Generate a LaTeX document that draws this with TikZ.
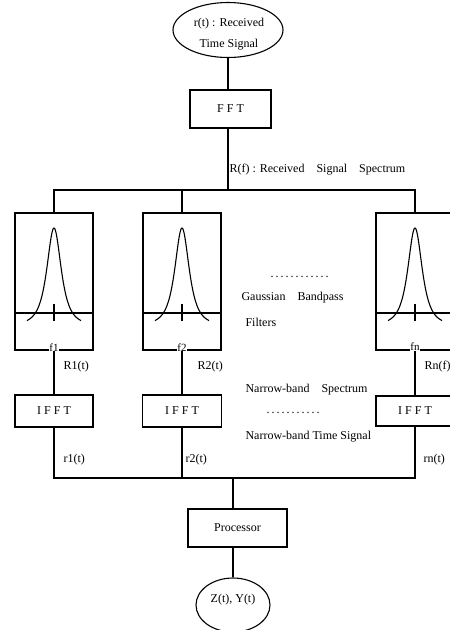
\documentclass[tikz,border=0pt]{standalone}
\usepackage{fontspec}
\setmainfont{Liberation Serif}
\usetikzlibrary{shapes.geometric}
\begin{document}
\begin{tikzpicture}[x=1pt,y=-1pt,
  line width=1.1pt,
  boxnode/.style={draw,rectangle,line width=1.1pt,inner sep=0pt,font=\fontsize{12}{14}\selectfont},
  ellnode/.style={draw,ellipse,line width=1.1pt,inner sep=0pt},
  txt/.style={inner sep=0pt,align=center,font=\fontsize{12}{21}\selectfont},
  lbl/.style={anchor=west,inner sep=0pt,font=\fontsize{12}{14}\selectfont},
  flbl/.style={fill=white,inner sep=0.6pt,font=\fontsize{11}{12}\selectfont},
  curve/.style={line width=1.1pt,smooth,samples=80}
]
\useasboundingbox (0,0) rectangle (450,630);
\clip (0,0) rectangle (450,630);

% top ellipse and FFT
\node[ellnode,minimum width=110,minimum height=55] (src) at (228,30) {};
\node[txt] (srct) at (229,34) {r(t) : Received\\Time Signal};
\node[boxnode,minimum width=81,minimum height=38] (fft) at (230.5,109) {F F T};
\coordinate (bt) at (228,190);
\draw (src.south) -- (src.south |- fft.north);
\draw (bt |- fft.south) -- (bt);
\node[lbl] (rf) at (229,170) {R(f) : Received\quad Signal\quad Spectrum};

% filter boxes
\node[boxnode,minimum width=78,minimum height=137] (f1) at (54,281.5) {};
\node[boxnode,minimum width=78,minimum height=137] (f2) at (182,281.5) {};
\node[boxnode,minimum width=78,minimum height=137] (fn) at (415,281.5) {};
\draw (f1.north) |- (bt) -| (fn.north);
\draw (f2.north) -- (f2.north |- bt);

\foreach \c/\n in {54/f1,182/f2,415/fn}{
  \draw (\n.west |- 0,313) -- (\n.east |- 0,313);
  \draw[curve,domain=-27:27] plot ({\c+\x},{313-85*((1+\x*\x/121)^(-1.5)-0.1306)/0.8694});
  \draw (\c,304) -- (\c,321);
}
\node[flbl] (lf1) at (54,348) {f1};
\node[flbl] (lf2) at (182,348) {f2};
\node[flbl] (lfn) at (415,347) {fn};

% middle texts
\node[lbl] (d1) at (269,277) {\makebox[64pt]{\leaders\hbox to 5pt{\hss.\hss}\hfill}};
\node[lbl] (gb) at (241,298) {Gaussian\quad Bandpass};
\node[lbl] (fl) at (245,322) {Filters};
\node[lbl] (nbs) at (245,390) {Narrow-band\quad Spectrum};
\node[lbl] (d2) at (265,413) {\makebox[58pt]{\leaders\hbox to 5pt{\hss.\hss}\hfill}};
\node[lbl] (nbt) at (245,437) {Narrow-band Time Signal};

% IFFT boxes
\node[boxnode,minimum width=78,minimum height=32] (i1) at (54,411) {I F F T};
\node[boxnode,minimum width=79,minimum height=32] (i2) at (182,411) {I F F T};
\node[boxnode,minimum width=78,minimum height=30] (in) at (415,411) {I F F T};
\draw (f1.south) -- (f1.south |- i1.north);
\draw (f2.south) -- (f2.south |- i2.north);
\draw (fn.south) -- (fn.south |- in.north);
\node[lbl] (R1) at (63,367) {R1(t)};
\node[lbl] (R2) at (197,367) {R2(t)};
\node[lbl] (Rn) at (424,367) {Rn(f)};

% bottom bus
\coordinate (bb) at (233,478);
\draw (i1.south) |- (bb) -| (in.south);
\draw (i2.south) -- (i2.south |- bb);
\node[lbl] (r1) at (63,460) {r1(t)};
\node[lbl] (r2) at (185,460) {r2(t)};
\node[lbl] (rn) at (423,460) {rn(t)};

% processor and output
\node[boxnode,minimum width=99,minimum height=38] (proc) at (237.5,528) {Processor};
\node[ellnode,minimum width=74,minimum height=54] (out) at (233,605) {};
\node[txt] (outt) at (233,600) {Z(t), Y(t)};
\draw (bb) -- (bb |- proc.north);
\draw (out.north |- proc.south) -- (out.north);
\end{tikzpicture}
\end{document}
